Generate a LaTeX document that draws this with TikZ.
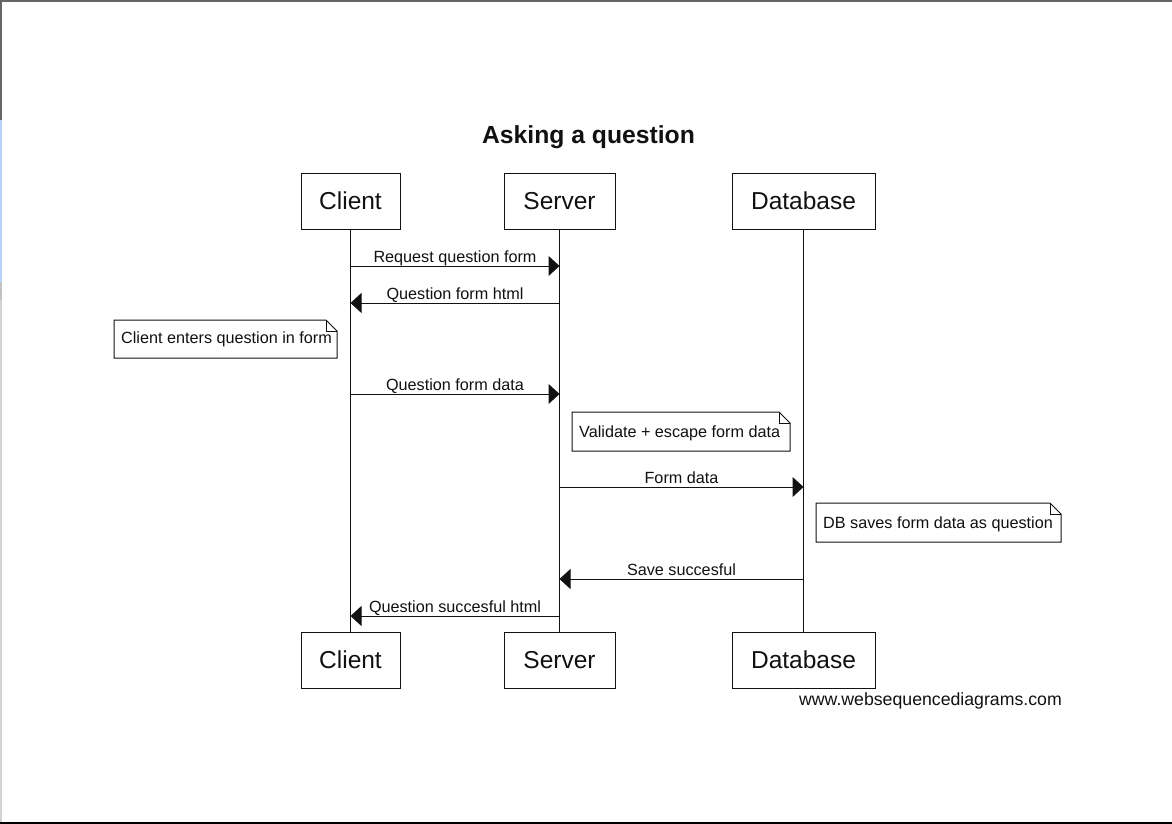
\documentclass[tikz,border=0pt]{standalone}
\usepackage{fontspec}
\setmainfont{Liberation Sans}
\usetikzlibrary{arrows.meta}
\definecolor{frameTop}{HTML}{666666}
\definecolor{frameBlue}{HTML}{B8D4FE}
\definecolor{frameGrayA}{HTML}{C2C2C2}
\definecolor{frameGrayB}{HTML}{D2D2D2}
\definecolor{ink}{HTML}{111111}
\begin{document}
\begin{tikzpicture}[x=1pt,y=-1pt,
  actor/.style={draw=ink,line width=1pt,minimum height=56pt,inner sep=0pt,
    font=\fontsize{24.5}{28}\selectfont,text=ink},
  life/.style={draw=ink,line width=1pt},
  msg/.style={draw=ink,line width=1pt,-{Triangle[length=11pt,width=20pt]}},
  lbl/.style={font=\fontsize{16.2}{19}\selectfont,anchor=base,inner sep=0pt,text=ink,yshift=4pt},
  notetxt/.style={font=\fontsize{16.2}{19}\selectfont,anchor=base west,inner sep=0pt,text=ink},
  notebox/.style={draw=ink,line width=1pt,fill=white,line join=miter},
]
\useasboundingbox (0,0) rectangle (1172,824);
\fill[white] (0,0) rectangle (1172,824);
% screenshot frame
\fill[frameTop] (0,0) rectangle (1172,2);
\fill[frameTop] (0,0) rectangle (2,120);
\fill[frameBlue] (0,120) rectangle (2,282);
\fill[frameGrayA] (0,282) rectangle (2,300);
\fill[frameGrayB] (0,300) rectangle (2,824);
\fill[black] (0,822) rectangle (1172,824);

% title
\node[font=\bfseries\fontsize{24.7}{28}\selectfont,anchor=base,inner sep=0pt,text=ink] (title) at (588.5,143) {Asking a question};

% actors
\node[actor,minimum width=99pt] (cT) at (350.5,201) {Client};
\node[actor,minimum width=111pt] (sT) at (559.5,201) {Server};
\node[actor,minimum width=143pt] (dT) at (803.5,201) {Database};
\node[actor,minimum width=99pt] (cB) at (350.5,660) {Client};
\node[actor,minimum width=111pt] (sB) at (559.5,660) {Server};
\node[actor,minimum width=143pt] (dB) at (803.5,660) {Database};

% lifelines
\draw[life] (cT.south) -- (cB.north);
\draw[life] (sT.south) -- (sB.north);
\draw[life] (dT.south) -- (dB.north);

% message endpoints
\coordinate (m1a) at (350.5,266); \coordinate (m1b) at (559.5,266);
\coordinate (m2a) at (559.5,303); \coordinate (m2b) at (350.5,303);
\coordinate (m3a) at (350.5,394); \coordinate (m3b) at (559.5,394);
\coordinate (m4a) at (559.5,487); \coordinate (m4b) at (803.5,487);
\coordinate (m5a) at (803.5,579); \coordinate (m5b) at (559.5,579);
\coordinate (m6a) at (559.5,616); \coordinate (m6b) at (350.5,616);

\draw[msg] (m1a) -- node[lbl] (l1) {Request question form} (m1b);
\draw[msg] (m2a) -- node[lbl] (l2) {Question form html} (m2b);
\draw[msg] (m3a) -- node[lbl] (l3) {Question form data} (m3b);
\draw[msg] (m4a) -- node[lbl] (l4) {Form data} (m4b);
\draw[msg] (m5a) -- node[lbl] (l5) {Save succesful} (m5b);
\draw[msg] (m6a) -- node[lbl] (l6) {Question succesful html} (m6b);

% notes
\draw[notebox] (114,320) -- (326,320) -- (337,331) -- (337,358) -- (114,358) -- cycle;
\draw[draw=ink,line width=1pt] (326,320) -- (326,331) -- (337,331);
\node[notetxt] (n1) at (121,343) {Client enters question in form};

\draw[notebox] (572,412) -- (779,412) -- (790,423) -- (790,451) -- (572,451) -- cycle;
\draw[draw=ink,line width=1pt] (779,412) -- (779,423) -- (790,423);
\node[notetxt] (n2) at (579,437) {Validate + escape form data};

\draw[notebox] (816,503) -- (1050,503) -- (1061,514) -- (1061,542) -- (816,542) -- cycle;
\draw[draw=ink,line width=1pt] (1050,503) -- (1050,514) -- (1061,514);
\node[notetxt] (n3) at (823,528) {DB saves form data as question};

% footer
\node[font=\fontsize{17.7}{20}\selectfont,anchor=base east,inner sep=0pt,text=ink] (foot) at (1062,705) {www.websequencediagrams.com};
\end{tikzpicture}
\end{document}
